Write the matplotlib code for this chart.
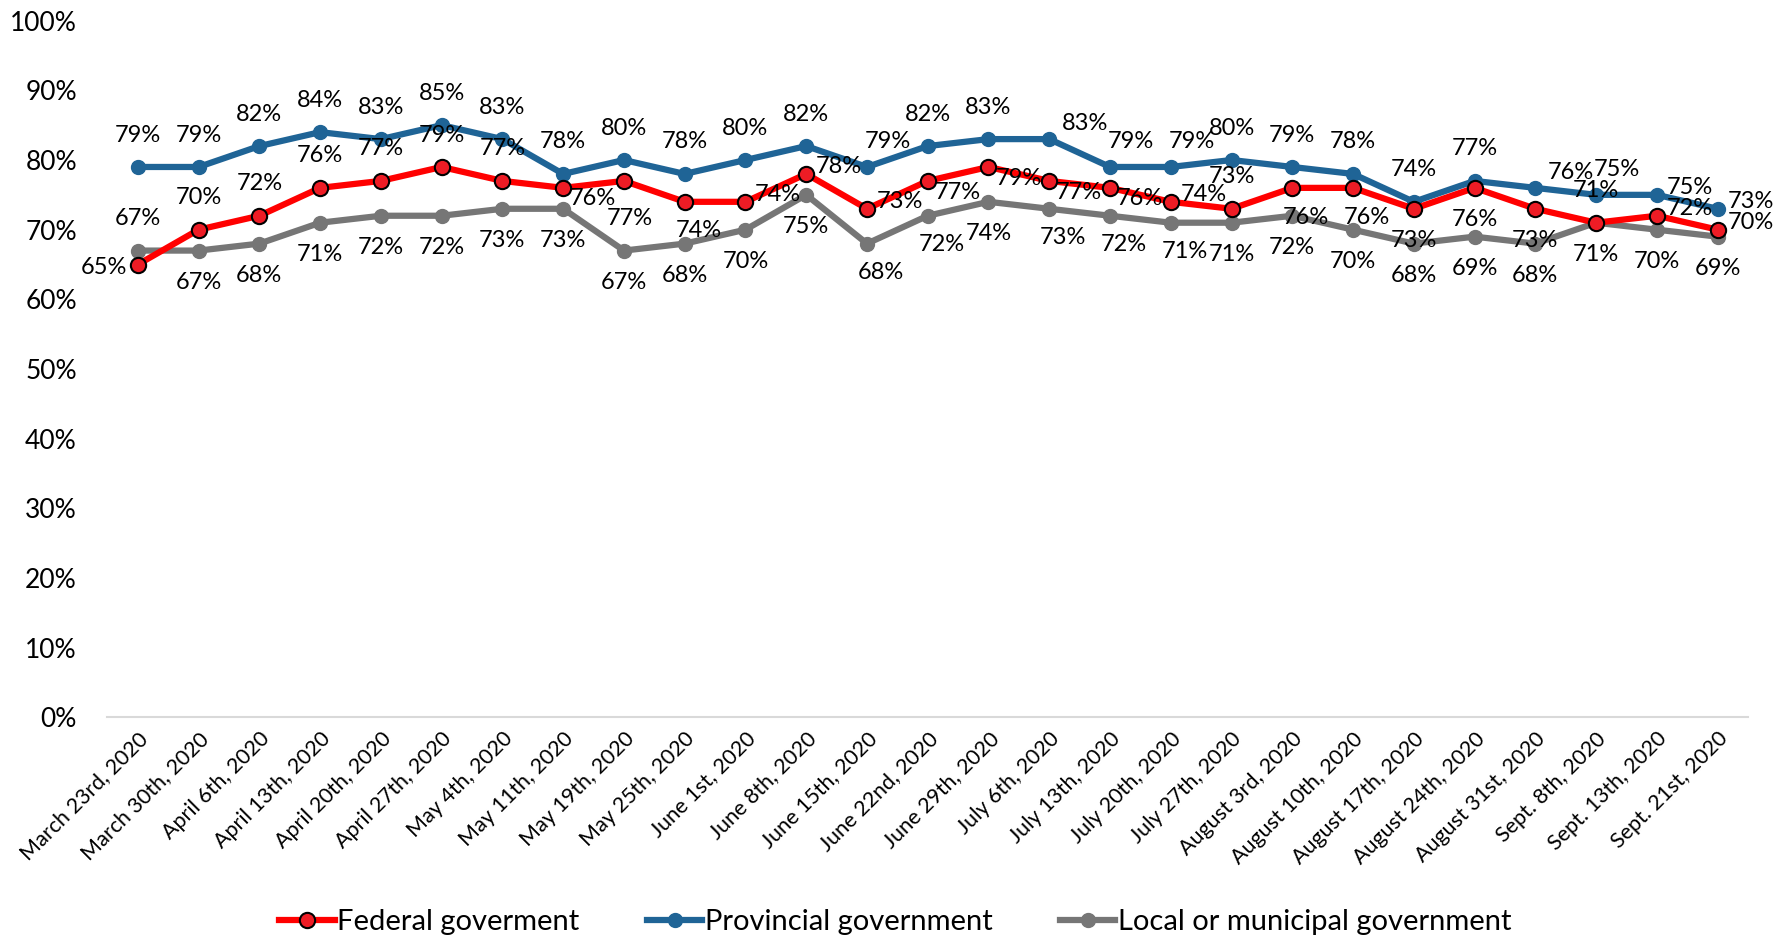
import matplotlib
matplotlib.use("Agg")
import matplotlib.pyplot as plt
from matplotlib.ticker import MultipleLocator, PercentFormatter

plt.rcParams['font.family'] = ['Lato', 'DejaVu Sans']

dates = ["March 23rd, 2020", "March 30th, 2020", "April 6th, 2020", "April 13th, 2020",
         "April 20th, 2020", "April 27th, 2020", "May 4th, 2020", "May 11th, 2020",
         "May 19th, 2020", "May 25th, 2020", "June 1st, 2020", "June 8th, 2020",
         "June 15th, 2020", "June 22nd, 2020", "June 29th, 2020", "July 6th, 2020",
         "July 13th, 2020", "July 20th, 2020", "July 27th, 2020", "August 3rd, 2020",
         "August 10th, 2020", "August 17th, 2020", "August 24th, 2020", "August 31st, 2020",
         "Sept. 8th, 2020", "Sept. 13th, 2020", "Sept. 21st, 2020"]

federal = [65, 70, 72, 76, 77, 79, 77, 76, 77, 74, 74, 78, 73, 77, 79, 77, 76, 74, 73,
           76, 76, 73, 76, 73, 71, 72, 70]
provincial = [79, 79, 82, 84, 83, 85, 83, 78, 80, 78, 80, 82, 79, 82, 83, 83, 79, 79, 80,
              79, 78, 74, 77, 76, 75, 75, 73]
local = [67, 67, 68, 71, 72, 72, 73, 73, 67, 68, 70, 75, 68, 72, 74, 73, 72, 71, 71,
         72, 70, 68, 69, 68, 71, 70, 69]

# where each data label sits relative to its point
# a=above, A=above-right, b=below, d=further below, B=below-right,
# l=left, r=right, R=right-below, U=right-up
fed_pos = list("laaaaaaRdBrrrRRRRraBBbbbarr")
prov_pos = list("aaaaaaaaaaaaAaaUAAaaaaaUArr")
loc_pos = list("abbbbbbbbbbbBBbBBBbbbbbbbbb")

RED = "#ff0000"
BLUE = "#1f6496"
GRAY = "#767676"

fig = plt.figure(figsize=(17.91, 9.39), dpi=100)
ax = fig.add_axes([0.060, 0.236, 0.916, 0.742])

x = list(range(len(dates)))
ax.plot(x, local, color=GRAY, lw=4.5, marker="o", ms=10, mfc=GRAY, mec=GRAY,
        label="Local or municipal government", zorder=2)
ax.plot(x, provincial, color=BLUE, lw=4.5, marker="o", ms=10, mfc=BLUE, mec=BLUE,
        label="Provincial government", zorder=3)
ax.plot(x, federal, color=RED, lw=4.5, marker="o", ms=11, mfc="#ee1c25", mec="black",
        mew=1.5, label="Federal goverment", zorder=4)

offsets = {"a": ((0, 23), "center"),
           "A": ((15, 18), "center"),
           "b": ((0, -23), "center"),
           "d": ((4, -27), "center"),
           "B": ((10, -21), "center"),
           "l": ((-8, -2), "right"),
           "r": ((7, 5), "left"),
           "U": ((9, 11), "left"),
           "R": ((5, -8), "left")}

for vals, pos in ((provincial, prov_pos), (federal, fed_pos), (local, loc_pos)):
    for i, v in enumerate(vals):
        off, ha = offsets[pos[i]]
        ax.annotate(f"{v}%", (i, v), xytext=off, textcoords="offset points",
                    ha=ha, va="center", fontsize=17, color="black", zorder=5)

ax.set_xlim(-0.5, len(dates) - 0.5)
ax.set_ylim(0, 100)
ax.yaxis.set_major_locator(MultipleLocator(10))
ax.yaxis.set_major_formatter(PercentFormatter(decimals=0))
ax.set_xticks(x)
ax.set_xticklabels(dates, rotation=45, ha="right", rotation_mode="anchor", fontsize=15.5)
ax.tick_params(axis="y", length=0, labelsize=19, pad=22)
ax.tick_params(axis="x", length=0, pad=8)

for s in ["top", "right", "left"]:
    ax.spines[s].set_visible(False)
ax.spines["bottom"].set_color("#d9d9d9")
ax.spines["bottom"].set_linewidth(1.5)

handles, labels = ax.get_legend_handles_labels()
order = [2, 1, 0]
fig.legend([handles[i] for i in order], [labels[i] for i in order],
           loc="center", bbox_to_anchor=(0.5, 0.018), ncol=3, frameon=False,
           fontsize=21, columnspacing=2.3, handlelength=1.9, handletextpad=0.1)

fig.savefig("out.png", dpi=100)
